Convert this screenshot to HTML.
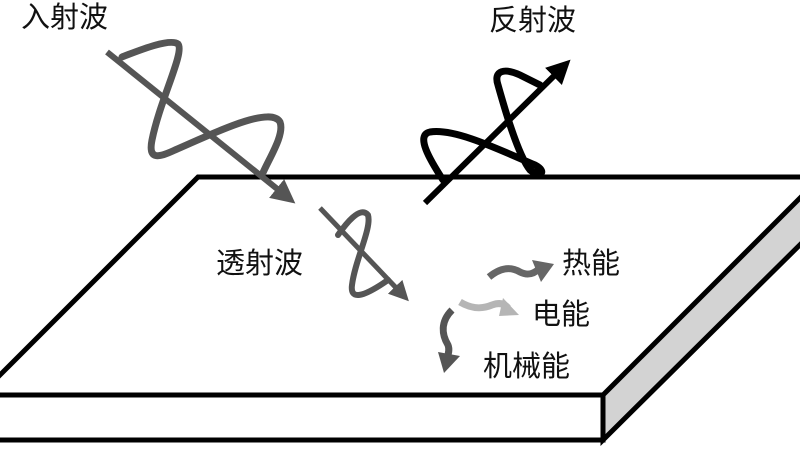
<!DOCTYPE html>
<html><head><meta charset="utf-8"><style>
html,body{margin:0;padding:0;background:#fff;}
svg{display:block}
text{font-family:"Liberation Sans","Noto Sans CJK SC",sans-serif;font-size:29px;fill:#111}
</style></head><body>
<svg width="800" height="450" viewBox="0 0 800 450">
<defs>
<marker id="ag" markerWidth="4" markerHeight="4" refX="2" refY="2" orient="auto" markerUnits="strokeWidth"><path d="M0,0 L4,2 L0,4 Z" fill="#555"/></marker>
<marker id="ab" markerWidth="4" markerHeight="4" refX="2" refY="2" orient="auto" markerUnits="strokeWidth"><path d="M0,0 L4,2 L0,4 Z" fill="#000"/></marker>
</defs>
<polygon points="603,395 830,168 830,215 603,440" fill="#d3d3d3" stroke="#000" stroke-width="5"/>
<rect x="-10" y="395" width="613" height="45" fill="#fff" stroke="#000" stroke-width="5"/>
<polyline points="830,177 198,177 -20,395" fill="none" stroke="#000" stroke-width="5"/>
<line x1="107" y1="52" x2="286" y2="196" stroke="#555" stroke-width="6" marker-end="url(#ag)"/>
<path d="M122,57 C140,50 170,38 178,44 C185,52 160,100 152,140 C148,160 158,158 175,150 C210,135 270,105 280,122 C285,135 268,160 262,175" fill="none" stroke="#555" stroke-width="7" stroke-linecap="round"/>
<line x1="320" y1="208" x2="402" y2="294" stroke="#555" stroke-width="5" marker-end="url(#ag)"/>
<path d="M338,235 C345,225 360,205 368,215 C372,228 355,260 352,285 C350,300 362,298 388,280" fill="none" stroke="#555" stroke-width="6" stroke-linecap="round"/>
<line x1="425" y1="203" x2="562" y2="68" stroke="#000" stroke-width="6" marker-end="url(#ab)"/>
<path d="M443,180 C430,160 415,135 430,132 C455,128 500,150 535,165 C548,172 540,178 530,170 C518,155 505,110 498,85 C493,70 505,68 520,75 L540,85" fill="none" stroke="#000" stroke-width="7" stroke-linecap="round"/>
<path d="M489,277 C500,268 510,266 520,272 C528,276 534,274 540,268" fill="none" stroke="#666" stroke-width="7"/>
<polygon points="532,260 554,264 541,282" fill="#666"/>
<path d="M460,302 C470,308 480,310 492,305 C500,302 505,304 508,308" fill="none" stroke="#b5b5b5" stroke-width="7"/>
<polygon points="503,298 519,315 499,316" fill="#b5b5b5"/>
<path d="M452,310 C440,322 442,335 448,345 C450,350 448,355 447,358" fill="none" stroke="#555" stroke-width="7"/>
<polygon points="438,352 460,356 444,373" fill="#555"/>
<text x="21" y="27">入射波</text>
<text x="489" y="30">反射波</text>
<text x="216" y="273">透射波</text>
<text x="562" y="273">热能</text>
<text x="532" y="324">电能</text>
<text x="483" y="376">机械能</text>
</svg>
</body></html>
